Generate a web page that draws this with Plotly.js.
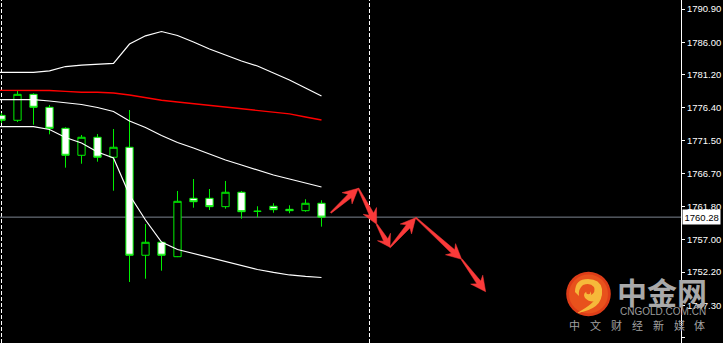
<!DOCTYPE html>
<html>
<head>
<meta charset="utf-8">
<script src="https://cdn.plot.ly/plotly-3.0.1.min.js"></script>
<style>html,body{margin:0;padding:0;background:#000;}#chart{width:723px;height:343px;}</style>
</head>
<body>
<div id="chart"></div>
<script>
// ---- data (hourly bars, index 0..20) ----
const barIndex = [0,1,2,3,4,5,6,7,8,9,10,11,12,13,14,15,16,17,18,19,20];
const openP  = [1775.26,1774.53,1778.35,1776.44,1773.35,1769.38,1772.03,1769.09,1770.56,1754.67,1756.58,1754.46,1763.05,1763.05,1761.82,1763.94,1761.14,1761.88,1761.43,1761.23,1762.32];
const highP  = [1775.60,1778.84,1778.50,1776.78,1773.50,1772.37,1772.51,1773.25,1776.04,1759.27,1756.70,1764.13,1765.89,1764.42,1765.60,1764.13,1761.88,1762.32,1762.02,1762.91,1762.76];
const lowP   = [1774.13,1774.28,1773.88,1772.47,1767.56,1768.14,1768.44,1764.17,1750.74,1751.22,1752.40,1754.40,1761.67,1761.33,1761.52,1760.05,1760.26,1760.93,1760.85,1761.08,1758.88];
const closeP = [1774.53,1778.35,1776.44,1773.35,1769.38,1772.03,1769.09,1770.56,1754.67,1756.58,1754.67,1762.61,1762.55,1761.82,1763.94,1761.08,1761.14,1761.38,1761.23,1762.32,1760.28];

// indicator lines (index -1..20)
const lineIndex = [-1,0,1,2,3,4,5,6,7,8,9,10,11,12,13,14,15,16,17,18,19,20];
const bbUpper  = [1781.59,1781.59,1781.59,1781.59,1781.81,1782.44,1782.66,1782.81,1782.91,1785.75,1786.96,1787.59,1787.00,1786.05,1785.02,1784.13,1783.25,1782.52,1781.49,1780.46,1779.28,1778.10];
const bbMiddle = [1777.56,1777.56,1777.56,1777.56,1777.37,1777.07,1776.85,1776.41,1775.82,1774.43,1773.47,1772.29,1771.26,1770.45,1769.57,1768.69,1767.95,1767.22,1766.48,1765.89,1765.30,1764.72];
const bbLower  = [1773.59,1773.59,1773.59,1773.59,1773.17,1772.00,1771.19,1769.86,1768.98,1763.54,1759.86,1756.62,1755.52,1754.93,1754.34,1753.75,1753.17,1752.58,1752.14,1751.77,1751.55,1751.40];
const maRed    = [1778.94,1778.94,1778.94,1778.94,1778.91,1778.79,1778.66,1778.65,1778.54,1778.25,1777.88,1777.47,1777.22,1776.96,1776.71,1776.46,1776.22,1775.97,1775.75,1775.48,1775.01,1774.57];

// forecast path (arrows)
const fcX = [20.58,22.30,23.45,24.28,25.89,28.76,30.26];
const fcY = [1760.93,1764.52,1759.23,1755.84,1760.20,1754.08,1749.31];

// day separators
const sepX = [0,23];

// y-axis ticks
const tickVals = [1790.9,1786.0,1781.2,1776.4,1771.5,1766.7,1761.8,1757.0,1752.2,1747.3,1742.5];
const tickText = tickVals.map(v => v.toFixed(2));

const lastPrice = closeP[closeP.length-1];

// ---- layout geometry ----
const W = 723, H = 343, mR = 42;
const plotW = W - mR, plotH = H;
const xRange = [-0.09375, 42.47];
const yRange = [1741.76, 1792.23];
const sx = plotW / (xRange[1]-xRange[0]);
const sy = plotH / (yRange[1]-yRange[0]);
const toPx = (x,y) => [(x - xRange[0])*sx, (yRange[1]-y)*sy];
const toData = (px,py) => [px/sx + xRange[0], yRange[1] - py/sy];

const GREEN = '#00f000';
const traces = [];

traces.push({
  type:'candlestick', x: barIndex, open: openP, high: highP, low: lowP, close: closeP,
  increasing:{line:{color:GREEN,width:1}, fillcolor:'#000000'},
  decreasing:{line:{color:GREEN,width:1}, fillcolor:'#ffffff'},
  whiskerwidth:0, hoverinfo:'skip', showlegend:false
});

[[bbUpper,'#ffffff',1.2],[bbMiddle,'#ffffff',1.2],[bbLower,'#ffffff',1.2],[maRed,'#ff0000',1.4]].forEach(([arr,c,w])=>{
  traces.push({type:'scatter', mode:'lines', x: lineIndex, y: arr, line:{color:c,width:w}, hoverinfo:'skip', showlegend:false});
});

// arrows built from forecast path as filled polygons
const ax = [], ay = [];
for (let i=0;i<fcX.length-1;i++){
  const A = toPx(fcX[i],fcY[i]), B = toPx(fcX[i+1],fcY[i+1]);
  const dx = B[0]-A[0], dy = B[1]-A[1], L = Math.hypot(dx,dy);
  const ux = dx/L, uy = dy/L, nx = -uy, ny = ux;
  const h = Math.min(15, L*0.45), notch = 3.5, ws = 2.4, wh = 7.5, wt = 0.6;
  const pts = [
    [A[0]+nx*wt, A[1]+ny*wt],
    [A[0]+ux*(L-h+notch)+nx*ws, A[1]+uy*(L-h+notch)+ny*ws],
    [A[0]+ux*(L-h)+nx*wh, A[1]+uy*(L-h)+ny*wh],
    [B[0], B[1]],
    [A[0]+ux*(L-h)-nx*wh, A[1]+uy*(L-h)-ny*wh],
    [A[0]+ux*(L-h+notch)-nx*ws, A[1]+uy*(L-h+notch)-ny*ws],
    [A[0]-nx*wt, A[1]-ny*wt],
    [A[0]+nx*wt, A[1]+ny*wt]
  ];
  pts.forEach(p=>{const d = toData(p[0],p[1]); ax.push(d[0]); ay.push(d[1]);});
  ax.push(null); ay.push(null);
}
traces.push({type:'scatter', mode:'lines', x:ax, y:ay, fill:'toself', fillcolor:'#fa3a3a',
  line:{color:'#fa3a3a',width:0.5}, hoverinfo:'skip', showlegend:false});

// ---- shapes ----
const P = (px,py) => [px/plotW, 1 - py/plotH]; // pixel -> paper
const shapes = [];
sepX.forEach(x => shapes.push({type:'line', xref:'x', yref:'paper', x0:x, x1:x, y0:0, y1:1,
  line:{color:'#ffffff', width:1, dash:'4px,2px'}, layer:'below'}));
shapes.push({type:'line', xref:'paper', yref:'y', x0:0, x1:1, y0:lastPrice, y1:lastPrice,
  line:{color:'#7d8590', width:1}, layer:'below'});

// logo (watermark)
function circ(cx,cy,r,color){
  const a = P(cx-r,cy+r), b = P(cx+r,cy-r);
  return {type:'circle', xref:'paper', yref:'paper', x0:a[0], y0:a[1], x1:b[0], y1:b[1], fillcolor:color, line:{width:0}, layer:'above'};
}
function pathPx(pts, color){
  let d = '';
  pts.forEach((seg)=>{
    const cmd = seg[0];
    const coords = [];
    for (let k=1;k<seg.length;k+=2){ const p = P(seg[k],seg[k+1]); coords.push(p[0]+','+p[1]); }
    d += cmd + coords.join(' ') + ' ';
  });
  return {type:'path', xref:'paper', yref:'paper', path: d + 'Z', fillcolor:color, line:{width:0}, layer:'above'};
}
shapes.push(circ(588.5,294,22.3,'#de3d18'));
shapes.push(circ(588.5,294,19.5,'#e8521c'));
shapes.push(pathPx([['M',575,292],['Q',575,279,588,279],['Q',600,279,602,289],['Q',603,298,596,301],['Q',590,303,585,298],['Q',582,293,588,291],['Q',592,291,591,295],['Q',596,292,594,287],['Q',590,282,583,285],['Q',578,289,579,296]], '#f6b93a'));
shapes.push(pathPx([['M',602,291],['Q',603,309,577,313],['Q',595,303,596,297]], '#f6b93a'));
shapes.push(circ(588.3,292,2.2,'#e8521c'));

// ---- annotations ----
const annotations = [];
annotations.push({xref:'paper', yref:'y', x:1, xanchor:'left', xshift:1, y:lastPrice, yanchor:'middle',
  text: lastPrice.toFixed(2), showarrow:false, bgcolor:'#ffffff', borderpad:1.5,
  font:{family:'Liberation Sans, Arial, sans-serif', size:9.5, color:'#000000'}});
annotations.push({xref:'paper', yref:'paper', x:662/plotW, y:1-291/plotH, xanchor:'center', yanchor:'middle',
  text:'<b>中金网</b>', showarrow:false, font:{family:'Noto Sans CJK SC', size:30, color:'#a9a9a9'}});
annotations.push({xref:'paper', yref:'paper', x:662.5/plotW, y:1-311.5/plotH, xanchor:'center', yanchor:'middle',
  text:'CNGOLD.COM.CN', showarrow:false, font:{family:'Liberation Sans, Arial, sans-serif', size:10, color:'#9c9c9c'}});
const slogan = '中文财经新媒体';
Array.from(slogan).forEach((ch,i)=>{
  annotations.push({xref:'paper', yref:'paper', x:(574.5+i*20.9)/plotW, y:1-324.5/plotH, xanchor:'center', yanchor:'middle',
    text:ch, showarrow:false, font:{family:'Noto Sans CJK SC', size:11, color:'#a0a0a0'}});
});

const layout = {
  width:W, height:H, margin:{l:0, r:mR, t:0, b:0, pad:0},
  paper_bgcolor:'#000000', plot_bgcolor:'#000000',
  showlegend:false, boxgap:0.35, hovermode:false,
  xaxis:{range:xRange, showgrid:false, zeroline:false, showticklabels:false, ticks:'', showline:false,
    rangeslider:{visible:false}, fixedrange:true},
  yaxis:{range:yRange, side:'right', tickvals:tickVals, ticktext:tickText, ticks:'outside', ticklen:3,
    tickcolor:'#ffffff', showline:true, linecolor:'#ffffff', linewidth:1, showgrid:false, zeroline:false,
    tickfont:{family:'Liberation Sans, Arial, sans-serif', size:9.5, color:'#ffffff'}, fixedrange:true},
  shapes: shapes, annotations: annotations
};

Plotly.newPlot('chart', traces, layout, {displayModeBar:false, staticPlot:true});
</script>
</body>
</html>
